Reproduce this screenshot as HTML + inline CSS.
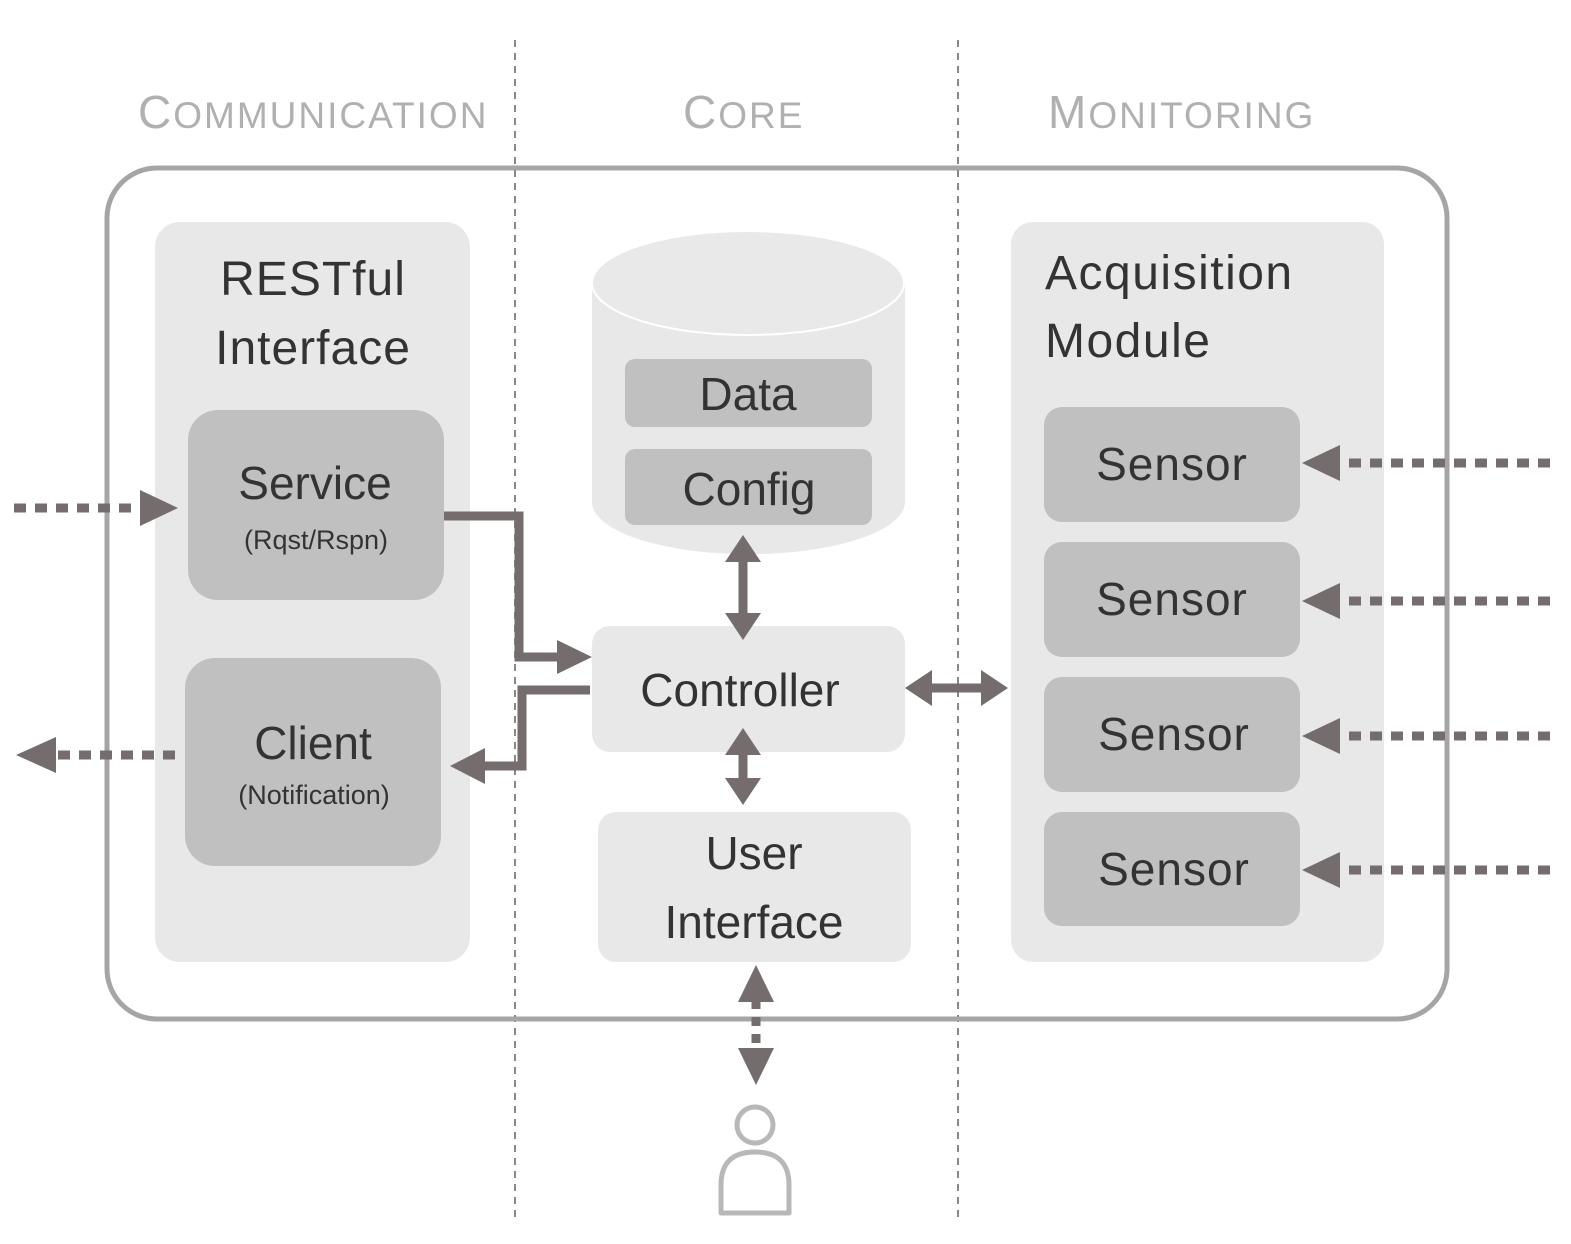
<!DOCTYPE html>
<html><head><meta charset="utf-8"><style>
html,body{margin:0;padding:0;background:#fff}
svg{display:block}
text{font-family:"Liberation Sans",sans-serif;fill:#333}
</style></head><body>
<svg width="1571" height="1244" viewBox="0 0 1571 1244" xmlns="http://www.w3.org/2000/svg">
<!-- dashed separators -->
<line x1="515" y1="40" x2="515" y2="1222" stroke="#888" stroke-width="2" stroke-dasharray="7,6"/>
<line x1="958" y1="40" x2="958" y2="1222" stroke="#888" stroke-width="2" stroke-dasharray="7,6"/>
<!-- headers -->
<text x="138" y="128" font-size="37" letter-spacing="2" style="fill:#b0b0b0"><tspan font-size="46">C</tspan>OMMUNICATION</text>
<text x="683" y="128" font-size="37" letter-spacing="2" style="fill:#b0b0b0"><tspan font-size="46">C</tspan>ORE</text>
<text x="1048" y="128" font-size="37" letter-spacing="2" style="fill:#b0b0b0"><tspan font-size="46">M</tspan>ONITORING</text>
<!-- outer -->
<rect x="107" y="168" width="1340" height="851" rx="50" fill="#fff" stroke="#a5a5a5" stroke-width="5"/>
<line x1="515" y1="170" x2="515" y2="1017" stroke="#888" stroke-width="2" stroke-dasharray="7,6"/>
<line x1="958" y1="170" x2="958" y2="1017" stroke="#888" stroke-width="2" stroke-dasharray="7,6"/>
<!-- left panel -->
<rect x="155" y="222" width="315" height="740" rx="25" fill="#e8e8e8"/>
<text x="313" y="295" font-size="48" text-anchor="middle" letter-spacing="1">RESTful</text>
<text x="313" y="364" font-size="48" text-anchor="middle" letter-spacing="1">Interface</text>
<rect x="188" y="410" width="256" height="190" rx="30" fill="#c0c0c0"/>
<text x="315" y="499" font-size="46" text-anchor="middle">Service</text>
<text x="316" y="549" font-size="27" text-anchor="middle">(Rqst/Rspn)</text>
<rect x="185" y="658" width="256" height="208" rx="30" fill="#c0c0c0"/>
<text x="313" y="759" font-size="46" text-anchor="middle">Client</text>
<text x="314" y="804" font-size="27" text-anchor="middle">(Notification)</text>
<!-- cylinder -->
<path d="M592,283 L592,502 A156,52 0 0 0 905,502 L905,283 Z" fill="#e8e8e8"/>
<ellipse cx="748" cy="283" rx="156" ry="52" fill="#e9e9e9" stroke="#fff" stroke-width="2"/>
<rect x="625" y="359" width="247" height="68" rx="10" fill="#c0c0c0"/>
<text x="748" y="410" font-size="46" text-anchor="middle">Data</text>
<rect x="625" y="449" width="247" height="76" rx="10" fill="#c0c0c0"/>
<text x="749" y="505" font-size="46" text-anchor="middle">Config</text>
<!-- controller -->
<rect x="592" y="626" width="313" height="126" rx="18" fill="#e8e8e8"/>
<text x="740" y="706" font-size="46" text-anchor="middle">Controller</text>
<!-- UI -->
<rect x="598" y="812" width="313" height="150" rx="18" fill="#e8e8e8"/>
<text x="754" y="869" font-size="46" text-anchor="middle">User</text>
<text x="754" y="938" font-size="46" text-anchor="middle">Interface</text>
<!-- right panel -->
<rect x="1011" y="222" width="373" height="740" rx="22" fill="#e8e8e8"/>
<text x="1045" y="289" font-size="48" letter-spacing="1.5">Acquisition</text>
<text x="1045" y="357" font-size="48" letter-spacing="1.5">Module</text>
<g fill="#c0c0c0">
<rect x="1044" y="407" width="256" height="115" rx="18"/>
<rect x="1044" y="542" width="256" height="115" rx="18"/>
<rect x="1044" y="677" width="256" height="115" rx="18"/>
<rect x="1044" y="812" width="256" height="114" rx="18"/>
</g>
<text x="1172" y="480" font-size="46" text-anchor="middle" letter-spacing="1">Sensor</text>
<text x="1172" y="615" font-size="46" text-anchor="middle" letter-spacing="1">Sensor</text>
<text x="1174" y="750" font-size="46" text-anchor="middle" letter-spacing="1">Sensor</text>
<text x="1174" y="885" font-size="46" text-anchor="middle" letter-spacing="1">Sensor</text>
<!-- solid connectors -->
<g stroke="#756d6d" stroke-width="9" fill="none">
<polyline points="444,516 519,516 519,657 565,657"/>
<polyline points="590,690 522,690 522,766 480,766"/>
<line x1="743" y1="555" x2="743" y2="620"/>
<line x1="743" y1="750" x2="743" y2="785"/>
<line x1="925" y1="688" x2="988" y2="688"/>
</g>
<g fill="#756d6d">
<path d="M557,640 L592,657 L557,674 Z"/>
<path d="M485,748 L450,766 L485,784 Z"/>
<path d="M725,562 L743,535 L761,562 Z"/>
<path d="M725,613 L743,640 L761,613 Z"/>
<path d="M725,755 L743,728 L761,755 Z"/>
<path d="M725,778 L743,805 L761,778 Z"/>
<path d="M932,670 L905,688 L932,706 Z"/>
<path d="M981,670 L1008,688 L981,706 Z"/>
</g>
<!-- dotted connectors -->
<g stroke="#756d6d" stroke-width="9" fill="none" stroke-dasharray="12,9">
<line x1="14" y1="508" x2="146" y2="508"/>
<line x1="175" y1="755" x2="50" y2="755"/>
<line x1="1550" y1="463" x2="1336" y2="463"/>
<line x1="1550" y1="601" x2="1336" y2="601"/>
<line x1="1550" y1="736" x2="1336" y2="736"/>
<line x1="1550" y1="870" x2="1336" y2="870"/>
<line x1="756" y1="1000" x2="756" y2="1052" stroke-dasharray="9,8"/>
</g>
<g fill="#756d6d">
<path d="M140,490 L178,508 L140,526 Z"/>
<path d="M56,737 L16,755 L56,773 Z"/>
<path d="M1340,445 L1302,463 L1340,481 Z"/>
<path d="M1340,583 L1302,601 L1340,619 Z"/>
<path d="M1340,718 L1302,736 L1340,754 Z"/>
<path d="M1340,852 L1302,870 L1340,888 Z"/>
<path d="M738,1002 L756,965 L774,1002 Z"/>
<path d="M738,1048 L756,1085 L774,1048 Z"/>
</g>
<!-- person -->
<circle cx="755" cy="1125" r="18" fill="none" stroke="#b8b8b8" stroke-width="5"/>
<path d="M721,1213 L721,1185 Q721,1152 755,1152 Q789,1152 789,1185 L789,1213 Z" fill="none" stroke="#b8b8b8" stroke-width="5" stroke-linejoin="round"/>
</svg>
</body></html>
